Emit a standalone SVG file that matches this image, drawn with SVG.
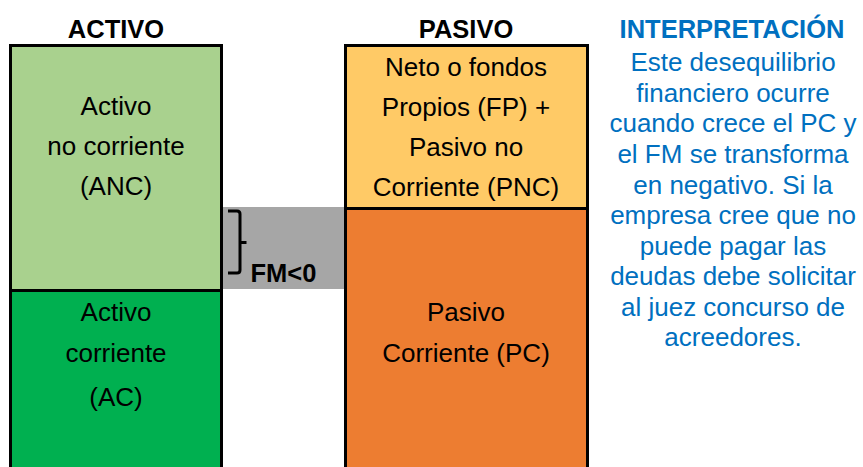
<svg xmlns="http://www.w3.org/2000/svg" width="863" height="467" viewBox="0 0 863 467">
<style>
.t{font-family:"Liberation Sans",Arial,sans-serif;font-size:26px;fill:#000;text-anchor:middle}
.h{font-family:"Liberation Sans",Arial,sans-serif;font-size:25.5px;font-weight:bold;fill:#000;text-anchor:middle}
.b{font-family:"Liberation Sans",Arial,sans-serif;font-size:26px;fill:#0070C0;text-anchor:middle}
.box{stroke:#000;stroke-width:3}
</style>
<rect width="863" height="467" fill="#fff"/>
<text class="h" x="116" y="38">ACTIVO</text>
<text class="h" x="466" y="38">PASIVO</text>
<g id="fm">
<rect x="222" y="207" width="123" height="82" fill="#A6A6A6"/>
</g>
<g id="anc">
<rect class="box" x="10.5" y="45.5" width="211" height="245" fill="#A9D18E"/>
<text class="t" x="116" y="115">Activo</text>
<text class="t" x="116" y="155">no corriente</text>
<text class="t" x="116" y="195">(ANC)</text>
</g>
<g id="ac">
<rect class="box" x="10.5" y="290.5" width="211" height="190" fill="#00B050"/>
<text class="t" x="116" y="321">Activo</text>
<text class="t" x="116" y="362">corriente</text>
<text class="t" x="116" y="406">(AC)</text>
</g>
<g id="pnc">
<rect class="box" x="345.5" y="45.5" width="242" height="163" fill="#FFCA66"/>
<text class="t" x="466" y="76">Neto o fondos</text>
<text class="t" x="466" y="116">Propios (FP) +</text>
<text class="t" x="466" y="156">Pasivo no</text>
<text class="t" x="466" y="196">Corriente (PNC)</text>
</g>
<g id="pc">
<rect class="box" x="345.5" y="208.5" width="242" height="272" fill="#ED7D31"/>
<text class="t" x="466" y="321">Pasivo</text>
<text class="t" x="466" y="362">Corriente (PC)</text>
</g>
<g id="connectors">
<path d="M228 211 H237 Q240 211 240 214 V270 Q240 273 237 273 H228 M240 242.5 H246.5" fill="none" stroke="#000" stroke-width="3"/>
</g>
<text class="h" x="283.5" y="282">FM&lt;0</text>
<g id="interpretacion">
<text class="h" x="732" y="38" style="fill:#0070C0">INTERPRETACIÓN</text>
<text class="b" x="733" y="71">Este desequilibrio</text>
<text class="b" x="733" y="101.5">financiero ocurre</text>
<text class="b" x="733" y="132">cuando crece el PC y</text>
<text class="b" x="733" y="163">el FM se transforma</text>
<text class="b" x="733" y="193.5">en negativo. Si la</text>
<text class="b" x="733" y="224">empresa cree que no</text>
<text class="b" x="733" y="254.5">puede pagar las</text>
<text class="b" x="733" y="285">deudas debe solicitar</text>
<text class="b" x="733" y="315.5">al juez concurso de</text>
<text class="b" x="733" y="346">acreedores.</text>
</g>
</svg>
